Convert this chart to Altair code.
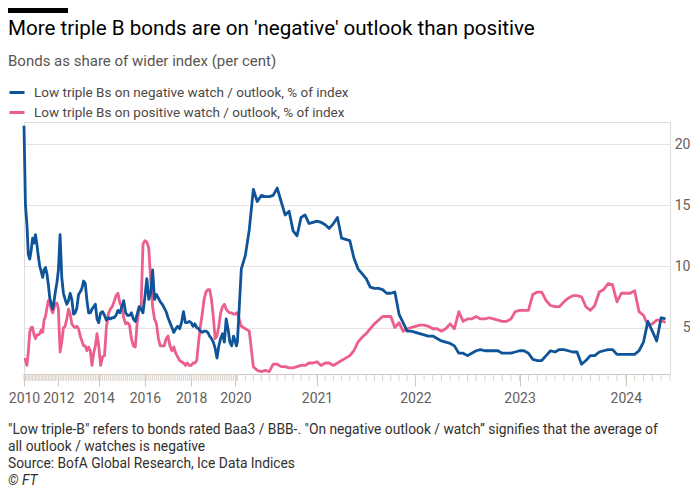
import altair as alt
import pandas as pd

NEG = "Low triple Bs on negative watch / outlook, % of index"
POS = "Low triple Bs on positive watch / outlook, % of index"
BLUE = "#0f5499"
PINK = "#eb5e8d"
FONT = "Roboto"

# ---- monthly readings, Jan 2010 .. Feb 2020 ----
neg_pre = [
    21.5, 15.0, 13.5, 11.0, 10.6, 11.3, 12.3, 11.9, 12.6, 11.8, 10.8, 10.0,
    9.6, 9.1, 9.7, 9.9, 9.4, 8.5, 7.4, 6.9, 6.5, 7.2, 8.0, 8.7,
    9.7, 12.6, 9.1, 7.8, 7.3, 6.9, 7.2, 7.8, 7.3, 6.1, 6.2, 6.6,
    7.7, 7.9, 8.2, 8.8, 8.6, 7.2, 6.2, 6.2, 6.5, 6.7, 6.9, 5.7,
    5.4, 6.2, 6.3, 6.0, 5.6, 5.8, 5.7, 5.8, 5.8, 6.0, 6.4, 6.2,
    6.7, 7.2, 6.2, 6.0, 6.0, 6.2, 5.7, 5.5, 6.1, 6.7, 6.5, 6.2,
    7.5, 9.0, 7.3, 7.8, 9.7, 7.3, 7.7, 7.4, 7.1, 6.9, 6.6, 6.3,
    5.8, 5.4, 5.0, 4.6, 4.9, 5.1, 4.9, 5.4, 6.3, 5.4, 5.4, 5.5,
    5.4, 5.1, 5.3, 5.0, 4.9, 4.7, 4.6, 4.7, 4.7, 4.6, 4.3, 4.1,
    3.8, 3.3, 2.5, 3.5, 4.1, 4.5, 3.8, 5.7, 4.9, 3.8, 3.5, 4.3,
    3.8, 3.5,
]
pos_pre = [
    2.4, 2.4, 1.9, 3.0, 4.6, 5.0, 5.0, 4.4, 4.1, 4.4, 4.4, 4.5,
    4.8, 4.6, 5.6, 5.9, 6.6, 7.2, 7.0, 6.5, 6.2, 6.6, 7.0, 7.0,
    6.5, 3.0, 3.8, 5.0, 5.1, 5.7, 6.5, 6.1, 5.3, 5.1, 5.0, 5.1,
    4.9, 4.3, 3.9, 3.5, 3.5, 3.1, 3.4, 3.1, 1.9, 2.9, 3.5, 4.5,
    3.5, 1.9, 2.6, 2.7, 5.0, 6.1, 6.5, 6.7, 7.1, 7.6, 7.8, 7.0,
    6.7, 5.8, 5.3, 5.4, 5.2, 4.1, 3.5, 3.4, 5.4, 6.5, 6.6, 11.8,
    12.1, 12.0, 11.5, 8.9, 6.7, 5.7, 5.3, 4.1, 3.5, 3.5, 3.5, 4.1,
    4.3, 3.5, 3.1, 3.4, 2.9, 2.6, 2.3, 2.2, 2.1, 1.9, 2.1, 1.9,
    1.9, 2.1, 2.1, 2.3, 3.8, 5.1, 6.1, 7.3, 7.9, 8.1, 8.1, 7.3,
    5.9, 4.1, 4.3, 5.1, 6.2, 6.7, 6.9, 6.5, 6.3, 6.2, 6.2, 6.1,
    6.1, 6.2,
]

# ---- half-monthly readings (1st and 16th), Mar 2020 .. May 2024 ----
neg_2020 = [3.8, 9.8, 10.9, 13.0, 16.3, 15.3, 15.8, 15.7, 15.7, 15.8,
            16.4, 15.3, 14.2, 14.5, 12.9, 12.5, 14.0, 14.2, 13.5, 13.6]
neg_2021 = [13.7, 13.6, 13.4, 13.1, 13.5, 14.0, 12.3, 12.2, 12.1, 10.7, 9.8, 9.4,
            9.0, 8.3, 8.2, 8.2, 8.1, 7.8, 7.8, 7.9, 6.1, 5.4, 4.7, 4.7]
neg_2022 = [4.6, 4.5, 4.4, 4.3, 4.3, 4.1, 3.9, 3.8, 3.7, 3.5, 2.9, 2.9,
            2.7, 2.9, 3.1, 3.2, 3.1, 3.1, 3.1, 3.1, 2.9, 2.9, 2.9, 3.0]
neg_2023 = [3.1, 3.1, 2.9, 2.4, 2.3, 2.3, 2.7, 3.1, 3.0, 3.2, 3.2, 3.1,
            3.0, 3.0, 2.0, 2.3, 2.7, 2.7, 3.0, 3.1, 3.2, 3.2, 2.8, 2.8]
neg_2024 = [2.8, 2.8, 2.8, 3.1, 3.8, 5.5, 4.7, 3.9, 5.8, 5.7]

pos_2020 = [6.2, 5.1, 4.9, 4.7, 1.8, 1.5, 1.4, 1.5, 1.4, 2.0,
            2.0, 1.8, 1.8, 1.7, 1.7, 1.8, 1.9, 1.9, 2.1, 2.1]
pos_2021 = [2.2, 1.9, 2.1, 2.1, 1.9, 2.1, 2.3, 2.5, 2.7, 3.1, 3.8, 4.2,
            4.5, 4.9, 5.3, 5.6, 5.9, 5.9, 5.9, 5.0, 5.4, 4.7, 4.9, 5.0]
pos_2022 = [5.1, 5.2, 5.2, 5.1, 4.9, 4.9, 4.7, 4.9, 5.3, 4.9, 6.3, 5.5,
            5.7, 5.7, 5.9, 5.7, 5.7, 5.8, 5.7, 5.6, 5.5, 5.5, 5.7, 6.3]
pos_2023 = [6.4, 6.4, 6.4, 7.7, 7.9, 7.9, 7.2, 6.8, 6.7, 6.7, 7.1, 7.4,
            7.6, 7.6, 7.5, 6.7, 6.4, 6.8, 7.9, 8.1, 8.6, 8.5, 7.1, 7.8]
pos_2024 = [7.8, 7.8, 8.0, 6.3, 6.0, 5.2, 5.3, 5.6, 5.6, 5.4]

year_labels = [2010, 2012, 2014, 2016, 2018, 2020, 2021, 2022, 2023, 2024]

title_text = "More triple B bonds are on 'negative' outlook than positive"
subtitle_text = "Bonds as share of wider index (per cent)"
notes = [
    "\"Low triple-B\" refers to bonds rated Baa3 / BBB-. \"On negative outlook / watch\u201d signifies that the average of",
    "all outlook / watches is negative",
    "Source: BofA Global Research, Ice Data Indices",
]
credit = "\u00a9 FT"

# ---- build tables ----
monthly = list(pd.date_range("2010-01-01", "2020-02-01", freq="MS"))
half_monthly = []
for m in pd.date_range("2020-03-01", "2024-05-01", freq="MS"):
    half_monthly += [m, m + pd.Timedelta(days=15)]
dates = monthly + half_monthly

neg = neg_pre + neg_2020 + neg_2021 + neg_2022 + neg_2023 + neg_2024
pos = pos_pre + pos_2020 + pos_2021 + pos_2022 + pos_2023 + pos_2024

df = pd.concat([
    pd.DataFrame({"date": dates, "value": pos, "series": POS}),
    pd.DataFrame({"date": dates, "value": neg, "series": NEG}),
], ignore_index=True)
df["date"] = df["date"].dt.strftime("%Y-%m-%d")

ticks_df = pd.DataFrame({"date": pd.date_range("2010-01-01", "2024-06-01", freq="MS").strftime("%Y-%m-%d")})

W, H = 646, 252

# decimal year computed from the date string
YEAR_EXPR = ("toNumber(substring(datum.date, 0, 4)) + (toNumber(substring(datum.date, 5, 7)) - 1) / 12"
             " + (toNumber(substring(datum.date, 8, 10)) - 1) / 365")

# piecewise axis: sparse history compressed, recent period stretched
break_years = [2010, 2012, 2014, 2016, 2018, 2020, 2020 + 2 / 12,
               2021, 2022, 2023, 2024, 2024 + 5 / 12]
break_px = [0, 34.4, 74.7, 120.9, 167.2, 211.4, 213.4, 293.0, 391.4, 495.6, 601.8, W]
xscale = alt.Scale(domain=break_years, range=break_px, nice=False, zero=False)

AXIS_COL = "#cfc6bd"
MINOR_COL = "#dbd3cb"
LABEL_COL = "#66605c"

xaxis = alt.Axis(
    values=year_labels, format="d", title=None, grid=False,
    tickSize=12, tickColor=AXIS_COL, domainColor=AXIS_COL,
    labelPadding=12, labelBaseline="middle", labelFontSize=14, labelFont=FONT,
    labelColor=LABEL_COL, labelFlush=False, labelOverlap=False,
)
yaxis = alt.Axis(
    orient="right", values=[5, 10, 15, 20], title=None, domain=False, ticks=False,
    grid=True, gridColor="#e9e2db", labelAlign="right", labelPadding=20,
    labelFontSize=14, labelFont=FONT, labelColor=LABEL_COL,
)

lines = alt.Chart(df).transform_calculate(t=YEAR_EXPR).mark_line(
    strokeWidth=2.8, strokeJoin="round"
).encode(
    x=alt.X("t:Q", scale=xscale, axis=xaxis),
    y=alt.Y("value:Q", scale=alt.Scale(domain=[1.2, 21.8], nice=False, zero=False), axis=yaxis),
    color=alt.Color("series:N", scale=alt.Scale(domain=[NEG, POS], range=[BLUE, PINK]),
                    legend=alt.Legend(
                        title=None, orient="none", legendX=-16, legendY=-38.5,
                        direction="vertical", symbolType="stroke", symbolStrokeWidth=3,
                        symbolSize=225, labelFontSize=13.5, labelFont=FONT,
                        labelColor="#4d4845", labelOffset=8, rowPadding=4, padding=0,
                        labelLimit=0)),
    order="t:Q",
)

minor = alt.Chart(ticks_df).transform_calculate(t=YEAR_EXPR).mark_rule(
    color=MINOR_COL, strokeWidth=1
).encode(x="t:Q", y=alt.value(H), y2=alt.value(H + 7))

one = alt.Data(values=[{}])

def text_layer(s, x, y, size, color, baseline="alphabetic", style="normal"):
    return alt.Chart(one).mark_text(
        text=s, align="left", baseline=baseline, fontSize=size, font=FONT,
        color=color, fontStyle=style,
    ).encode(x=alt.value(x), y=alt.value(y))

bar = alt.Chart(one).mark_rect(color="#000000").encode(
    x=alt.value(-16), x2=alt.value(44), y=alt.value(-114), y2=alt.value(-109)
)

layers = [lines, minor, bar,
          text_layer(title_text, -16, -87, 20.6, "#000000"),
          text_layer(subtitle_text, -16, -56, 15, "#5a5552")]
for i, n in enumerate(notes):
    layers.append(text_layer(n, -16, 308 + 17 * i, 13.8, "#33302e", baseline="middle"))
layers.append(text_layer(credit, -16, 308 + 17 * 3, 13.8, "#33302e", baseline="middle", style="italic"))

chart = alt.layer(*layers).properties(width=W, height=H, padding=0).configure_view(
    strokeWidth=0
).configure(background="white")

chart.save("out.html", embed_options={"renderer": "svg", "actions": False})
